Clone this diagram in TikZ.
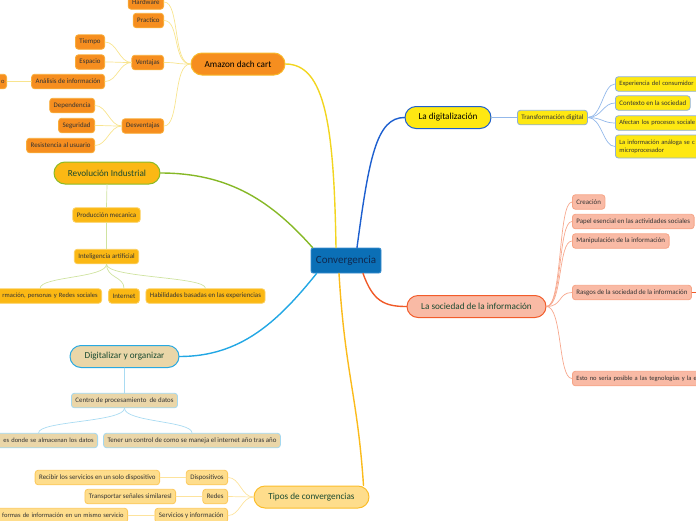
\documentclass[tikz,border=0pt]{standalone}
\usepackage{fontspec}
\setmainfont{Carlito}
\usetikzlibrary{positioning}
\definecolor{convfill}{HTML}{0B6FB6}
\definecolor{convedge}{HTML}{3B8FD1}
\definecolor{convtext}{HTML}{10294F}
\definecolor{amzfill}{HTML}{F68E1F}
\definecolor{amzedge}{HTML}{F8B92A}
\definecolor{amzleafedge}{HTML}{F9AE3A}
\definecolor{revfill}{HTML}{FBB814}
\definecolor{revedge}{HTML}{8BBB24}
\definecolor{revleafedge}{HTML}{FCD060}
\definecolor{digfill}{HTML}{EAD6A8}
\definecolor{digedge}{HTML}{29A9E1}
\definecolor{digleafedge}{HTML}{A3D8F0}
\definecolor{tipfill}{HTML}{FEDD8C}
\definecolor{tipedge}{HTML}{FBBD2A}
\definecolor{tipleafedge}{HTML}{FCC85A}
\definecolor{dizfill}{HTML}{FEE812}
\definecolor{dizedge}{HTML}{1E5FCE}
\definecolor{dizleafedge}{HTML}{8EB0D8}
\definecolor{socfill}{HTML}{F9BAA5}
\definecolor{socedge}{HTML}{F25C2B}
\definecolor{socleafedge}{HTML}{F6A486}
\definecolor{darkgreen}{HTML}{1A4A30}
\definecolor{yellowbr}{HTML}{F2D51F}
\definecolor{greenbr}{HTML}{86B826}
\definecolor{bluebr}{HTML}{22A7E4}
\definecolor{goldbr}{HTML}{FBBB1B}
\definecolor{navybr}{HTML}{1D5FCF}
\definecolor{redbr}{HTML}{F05A28}
\definecolor{amztwig}{HTML}{F8E48E}
\definecolor{revtwig}{HTML}{CFE3A0}
\definecolor{digtwig}{HTML}{A9DBF2}
\definecolor{tiptwig}{HTML}{FDE39C}
\definecolor{diztwig}{HTML}{93B8EA}
\definecolor{soctwig}{HTML}{F7A88E}
\tikzset{
  convbox/.style={rectangle, rounded corners=2pt, draw=convedge, fill=convfill, line width=0.8pt,
    minimum width=70pt, minimum height=25pt, text=convtext, font=\fontsize{11}{13}\selectfont},
  topic/.style={rectangle, rounded corners=11pt, draw, line width=1pt, minimum height=22pt,
    inner xsep=8pt, font=\fontsize{9.2}{11}\selectfont},
  leaf/.style={rectangle, rounded corners=3pt, draw, line width=0.8pt, inner xsep=4pt, inner ysep=0pt,
    minimum height=14.5pt, text=black!80, font=\fontsize{6.9}{8.4}\selectfont},
  amzleaf/.style={leaf, fill=amzfill, draw=amzleafedge},
  revleaf/.style={leaf, fill=revfill, draw=revleafedge},
  digleaf/.style={leaf, fill=digfill, draw=digleafedge},
  tipleaf/.style={leaf, fill=tipfill, draw=tipleafedge},
  dizleaf/.style={leaf, fill=dizfill, draw=dizleafedge},
  socleaf/.style={leaf, fill=socfill, draw=socleafedge},
  cutleft/.style={text width=#1, align=right, font=\fontsize{6.5}{8}\selectfont},
  cutright/.style={text width=#1, align=left, font=\fontsize{6.5}{8}\selectfont},
  branch/.style={line width=1.4pt},
  twig/.style={line width=0.7pt},
  every picture/.style={line cap=round, line join=round}
}

\begin{document}
\begin{tikzpicture}[x=1pt, y=-1pt]
  \useasboundingbox (0,0) rectangle (696,520);
  \clip (0,0) rectangle (696,520);

  \node[convbox] (conv) at (346,260.5) {Convergencia};

  % Amazon dach cart
  \node[topic, fill=amzfill, draw=amzedge, minimum width=94pt] (amazon) at (238,64) {Amazon dach cart};
  \node[amzleaf, anchor=east] (hardware) at (164,2) {Hardware};
  \node[amzleaf, anchor=east] (practico) at (164,20.5) {Practico};
  \node[amzleaf, anchor=east] (ventajas) at (164,62.5) {Ventajas};
  \node[amzleaf, anchor=east] (desventajas) at (164,126) {Desventajas};
  \node[amzleaf, anchor=east] (tiempo) at (105,42) {Tiempo};
  \node[amzleaf, anchor=east] (espacio) at (105,62) {Espacio};
  \node[amzleaf, anchor=east] (analisis) at (105,81.5) {Análisis de información};
  \node[amzleaf, anchor=east, cutleft=20pt, inner xsep=2pt] (cortado) at (7,81.5) {o};
  \node[amzleaf, anchor=east] (dependencia) at (95,105.5) {Dependencia};
  \node[amzleaf, anchor=east] (seguridad) at (95,125.5) {Seguridad};
  \node[amzleaf, anchor=east] (resistencia) at (95,145.5) {Resistencia al usuario};

  % Revolucion Industrial
  \node[topic, fill=revfill, draw=revedge, text=darkgreen, minimum width=106pt] (revol) at (107,173) {Revolución Industrial};
  \node[revleaf] (produccion) at (106.5,215) {Producción mecanica};
  \node[revleaf] (intel) at (106.5,256.5) {Inteligencia artificial};
  \node[revleaf, anchor=east, cutleft=115pt] (personas) at (102,296) {rmación, personas y Redes sociales};
  \node[revleaf] (internet) at (124,296) {Internet};
  \node[revleaf] (habil) at (205.5,296) {Habilidades basadas en las experiencias};

  % Digitalizar y organizar
  \node[topic, fill=digfill, draw=digedge, text=darkgreen, minimum width=109pt] (digital) at (124.5,356.5) {Digitalizar y organizar};
  \node[digleaf] (centro) at (124.5,400.5) {Centro de procesamiento\ \ de datos};
  \node[digleaf, anchor=east, cutleft=110pt] (lugares) at (98,440.5) {es donde se almacenan los datos};
  \node[digleaf] (control) at (192,440.5) {Tener un control de como se maneja el internet año tras año};

  % Tipos de convergencias
  \node[topic, fill=tipfill, draw=tipedge, text=darkgreen, minimum width=115pt] (tipos) at (311.5,497) {Tipos de convergencias};
  \node[tipleaf, anchor=east] (dispositivos) at (228,477.5) {Dispositivos};
  \node[tipleaf, anchor=east] (redes) at (228,496.5) {Redes};
  \node[tipleaf, anchor=east] (servicios) at (228,515.5) {Servicios y información};
  \node[tipleaf, anchor=east] (recibir) at (160,477.5) {Recibir los servicios en un solo dispositivo};
  \node[tipleaf, anchor=east] (transportar) at (176,496.5) {Transportar señales similaresl};
  \node[tipleaf, anchor=east, cutleft=140pt] (formas) at (128,515.5) {formas de información en un mismo servicio};

  % La digitalizacion
  \node[topic, fill=dizfill, draw=dizedge, minimum width=86pt] (digiz) at (448,117.5) {La digitalización};
  \node[dizleaf, anchor=west] (transf) at (517,117.5) {Transformación digital};
  \node[dizleaf, anchor=west, cutright=95pt] (experiencia) at (615,84) {Experiencia del consumidor};
  \node[dizleaf, anchor=west] (contexto) at (615,103) {Contexto en la sociedad};
  \node[dizleaf, anchor=west, cutright=95pt] (afectan) at (615,123) {Afectan los procesos sociale};
  \node[dizleaf, anchor=west, cutright=95pt, minimum height=23pt] (analoga) at (615,146.5) {La información análoga se c\\microprocesador};

  % La sociedad de la informacion
  \node[topic, fill=socfill, draw=socedge, text=darkgreen, minimum width=139pt] (socied) at (476.5,306.5) {La sociedad de la información};
  \node[socleaf, anchor=west] (creacion) at (572,202) {Creación};
  \node[socleaf, anchor=west] (papel) at (572,221.5) {Papel esencial en las actividades sociales};
  \node[socleaf, anchor=west] (manip) at (572,241) {Manipulación de la información};
  \node[socleaf, anchor=west] (rasgos) at (572,292.5) {Rasgos de la sociedad de la información};
  \node[socleaf, anchor=west, cutright=140pt] (esto) at (572,378.5) {Esto no seria posible a las tegnologías y la e};
  \coordinate (fuera) at (712,292.5);

  % main branches
  \draw[branch, yellowbr] ([xshift=-10pt]conv.north) .. controls +(-2,-120) and +(40,0) .. (amazon.east);
  \draw[branch, greenbr] ([xshift=2pt]conv.north west) .. controls +(-40,-45) and +(70,0) .. (revol.east);
  \draw[branch, bluebr] ([xshift=6pt]conv.south west) .. controls +(-40,50) and +(60,0) .. (digital.east);
  \draw[branch, goldbr] ([xshift=-7pt]conv.south) .. controls +(6,100) and +(-6,-90) .. ([xshift=52pt]tipos.north);
  \draw[branch, navybr] ([xshift=11pt]conv.north) .. controls +(12,-90) and +(-28,0) .. (digiz.west);
  \draw[branch, redbr] ([xshift=17pt]conv.south) .. controls +(10,28) and +(-22,0) .. (socied.west);

  % twigs
  \foreach \k in {hardware,practico,ventajas,desventajas}
    \draw[twig, amztwig] (amazon.west) .. controls +(-18,0) and +(16,0) .. (\k.east);
  \foreach \k in {tiempo,espacio,analisis}
    \draw[twig, amztwig] (ventajas.west) .. controls +(-12,0) and +(12,0) .. (\k.east);
  \foreach \k in {dependencia,seguridad,resistencia}
    \draw[twig, amztwig] (desventajas.west) .. controls +(-12,0) and +(12,0) .. (\k.east);
  \draw[twig, amztwig] (analisis.west) -- (cortado.east);

  \draw[twig, revtwig] (revol.south) -- (produccion.north);
  \draw[twig, revtwig] (produccion.south) -- (intel.north);
  \foreach \k in {personas,internet,habil}
    \draw[twig, revtwig] (intel.south) .. controls +(0,14) and +(0,-12) .. (\k.north);

  \draw[twig, digtwig] (digital.south) -- (centro.north);
  \foreach \k in {lugares,control}
    \draw[twig, digtwig] (centro.south) .. controls +(0,14) and +(0,-12) .. (\k.north);

  \foreach \k in {dispositivos,redes,servicios}
    \draw[twig, tiptwig] (tipos.west) .. controls +(-12,0) and +(12,0) .. (\k.east);
  \draw[twig, tiptwig] (dispositivos.west) -- (recibir.east);
  \draw[twig, tiptwig] (redes.west) -- (transportar.east);
  \draw[twig, tiptwig] (servicios.west) -- (formas.east);

  \draw[twig, diztwig] (digiz.east) -- (transf.west);
  \foreach \k in {experiencia,contexto,afectan,analoga}
    \draw[twig, diztwig] (transf.east) .. controls +(14,0) and +(-12,0) .. (\k.west);

  \foreach \k in {creacion,papel,manip,rasgos,esto}
    \draw[twig, soctwig] (socied.east) .. controls +(16,0) and +(-14,0) .. (\k.west);
  \draw[twig, redbr] (rasgos.east) -- (fuera);
\end{tikzpicture}
\end{document}
